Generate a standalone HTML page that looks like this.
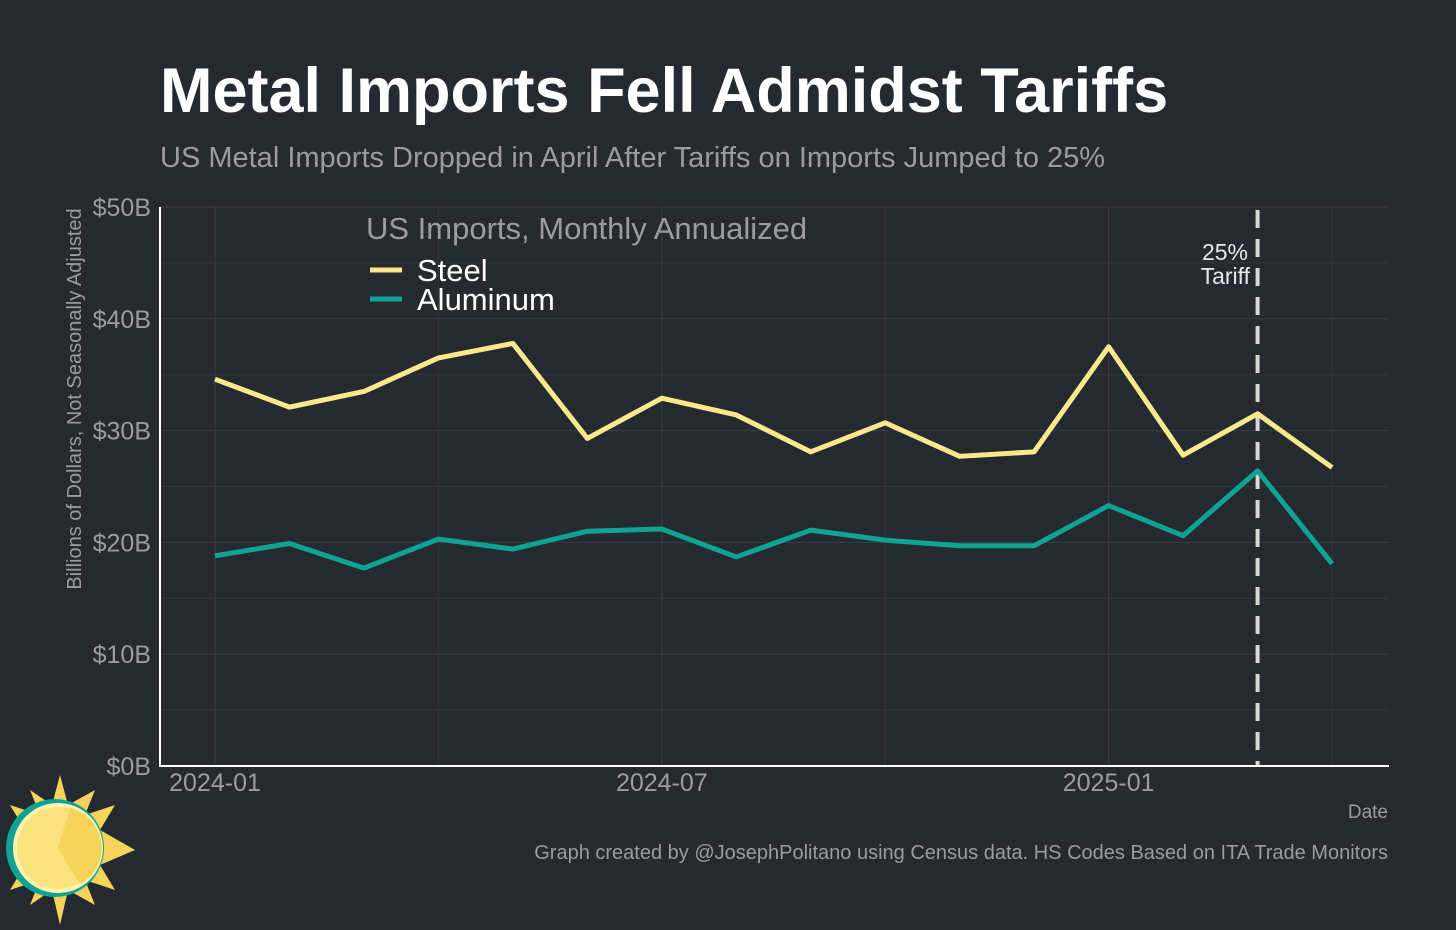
<!DOCTYPE html>
<html><head><meta charset="utf-8"><style>
body{margin:0;background:#252930;width:1456px;height:930px;overflow:hidden;font-family:"Liberation Sans",Arial,sans-serif}
svg{display:block}
</style></head><body>
<svg width="1456" height="930">
<rect width="1456" height="930" fill="#252930"/>
<text x="160" y="112" font-size="63" font-weight="bold" fill="#ffffff">Metal Imports Fell Admidst Tariffs</text>
<text x="160" y="167" font-size="29" fill="#9a9ca2">US Metal Imports Dropped in April After Tariffs on Imports Jumped to 25%</text>
<g id="grid"></g>
<g id="marks"></g>
<line x1="160" y1="207" x2="160" y2="767" stroke="#fff" stroke-width="2"/>
<line x1="159" y1="766" x2="1389" y2="766" stroke="#fff" stroke-width="2"/>
<g id="yticks"></g><g id="xticks"></g>
<text transform="translate(81,399) rotate(-90)" text-anchor="middle" font-size="20" fill="#9a9ca2">Billions of Dollars, Not Seasonally Adjusted</text>
<text x="1388" y="818" text-anchor="end" font-size="19" fill="#9a9ca2">Date</text>
<text x="366" y="239" font-size="31" fill="#9a9ca2">US Imports, Monthly Annualized</text>
<line x1="370" y1="270" x2="402" y2="270" stroke="#fbe88d" stroke-width="5"/>
<text x="417" y="281" font-size="31" fill="#fff">Steel</text>
<line x1="370" y1="299" x2="402" y2="299" stroke="#0ea393" stroke-width="5"/>
<text x="417" y="310" font-size="31" fill="#fff">Aluminum</text>
<text x="1248" y="260" text-anchor="end" font-size="23" fill="#e8e8e8">25%</text>
<text x="1250" y="284" text-anchor="end" font-size="23" fill="#e8e8e8">Tariff</text>
<text x="1388" y="859" text-anchor="end" font-size="20" fill="#9a9ca2">Graph created by @JosephPolitano using Census data. HS Codes Based on ITA Trade Monitors</text>
<g>
<polygon points="60,775 68,805 95,790 85,815 115,805 100,830 135,850 100,865 115,890 85,880 95,905 68,890 60,925 52,890 30,905 40,880 10,890 25,865 10,850 25,830 10,805 40,815 30,790 52,805" fill="#f6d35a"/>
<circle cx="55" cy="848" r="49" fill="#0ea393"/>
<circle cx="58" cy="848" r="45" fill="#fff3b0"/>
<circle cx="58" cy="848" r="41" fill="#fbe27f"/>
<path d="M58,848 L70,808 A41,41 0 0 1 80,884 Z" fill="#f6d35a"/>
</g>
</svg>
<script>
const months=["2024-01","2024-02","2024-03","2024-04","2024-05","2024-06","2024-07","2024-08","2024-09","2024-10","2024-11","2024-12","2025-01","2025-02","2025-03","2025-04"];
const steel=[34.6,32.1,33.5,36.5,37.8,29.3,32.9,31.4,28.1,30.7,27.7,28.1,37.5,27.8,31.5,26.7];
const aluminum=[18.8,19.9,17.7,20.3,19.4,21.0,21.2,18.7,21.1,20.2,19.7,19.7,23.3,20.6,26.4,18.1];
const yTicks=[0,10,20,30,40,50];
const yTickLabels=["$0B","$10B","$20B","$30B","$40B","$50B"];
const xTickLabels=["2024-01","2024-07","2025-01"];
const tariffMonth="2025-03";
const NS="http://www.w3.org/2000/svg";
const x=i=>215+i*74.47, y=v=>766-v*11.18;
const xi=m=>x(months.indexOf(m));
function mk(t,a,p){const e=document.createElementNS(NS,t);for(const k in a)e.setAttribute(k,a[k]);p.appendChild(e);return e;}
const grid=document.getElementById('grid');
for(let v=0;v<=50;v+=5){const l=mk('line',{x1:160,x2:1388,y1:y(v),y2:y(v),stroke:v%10?'#31353c':'#3a3e45','stroke-width':1},grid);

}
for(let i=0;i<=15;i+=3){const l=mk('line',{x1:x(i),x2:x(i),y1:207,y2:766,stroke:i%6?'#31353c':'#3a3e45','stroke-width':1},grid);

}
const yt=document.getElementById('yticks');
yTicks.forEach((v,k)=>{const t=mk('text',{x:151,y:y(v)+9,'text-anchor':'end','font-size':25,fill:'#9a9ca2'},yt);t.textContent=yTickLabels[k];

});
const xt=document.getElementById('xticks');
xTickLabels.forEach(m=>{const t=mk('text',{x:xi(m),y:791,'text-anchor':'middle','font-size':25,fill:'#9a9ca2'},xt);t.textContent=m;

});
const marks=document.getElementById('marks');
const tl=mk('line',{x1:xi(tariffMonth),x2:xi(tariffMonth),y1:210,y2:766,stroke:'#d8d8d8','stroke-width':4,'stroke-dasharray':'18,11'},marks);


function series(vals,color,name){const p=mk('polyline',{points:vals.map((v,i)=>x(i)+','+y(v)).join(' '),fill:'none',stroke:color,'stroke-width':5,'stroke-linejoin':'round'},marks);

}
series(steel,'#fbe88d','steel-line');
series(aluminum,'#0ea393','aluminum-line');
</script>
</body></html>
